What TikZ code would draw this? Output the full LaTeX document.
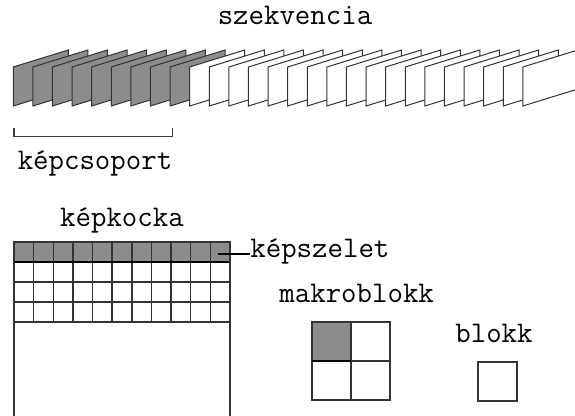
\documentclass[tikz,border=0pt]{standalone}
\usepackage{fontspec}
\usepackage{tikz}

\definecolor{szurke}{gray}{0.55}

\tikzset{
  cimke/.style={font=\ttfamily\fontsize{15}{18}\selectfont, inner sep=0pt, anchor=base},
  kepkeret/.style={draw=black!80, line width=0.5pt, line join=miter},
  racs/.style={draw=black!80, line width=0.7pt},
}

\begin{document}
\begin{tikzpicture}[x=0.5pt,y=0.5pt]

\useasboundingbox (0,0) rectangle (575,416);
\clip (0,0) rectangle (575,416);

% sequence: gray group of pictures first, then the white frames
\foreach \i in {0,...,8}
  \filldraw[kepkeret, fill=szurke] ({13.3+19.6*\i},310) -- ++(0,39) -- ++(55,17) -- ++(0,-39) -- cycle;
\foreach \i in {9,...,26}
  \filldraw[kepkeret, fill=white] ({13.3+19.6*\i},310) -- ++(0,39) -- ++(55,17) -- ++(0,-39) -- cycle;

\node[cimke] (szekvencia) at (295,391) {szekvencia};

% bracket under the group of pictures
\draw[black!75, line width=0.6pt] (14,288) -- (14,279.5) -- (172.7,279.5) -- (172.7,288);
\node[cimke] (kepcsoport) at (95,246.5) {képcsoport};

% picture with its slices
\node[cimke] (kepkocka) at (122,189.3) {képkocka};
\fill[szurke] (14,154) rectangle (230,174);
\foreach \c in {1,...,10}
  \draw[racs] ({14+19.636*\c},94) -- ++(0,80);
\foreach \r in {94,114,134}
  \draw[racs] (14,\r) -- (230,\r);
\draw[line width=1.1pt] (14,154) -- (230,154);
\draw[racs] (14,-10) |- (230,174) -- (230,-10);

\node[cimke, anchor=base west] (kepszelet) at (250,158) {képszelet};
\coordinate (szeletpont) at (218,162);
\draw[line width=0.6pt] (szeletpont) -- (szeletpont -| kepszelet.west);

% macroblock
\node[cimke] (makroblokk) at (356.7,113) {makroblokk};
\fill[szurke] (312,55) rectangle (351,94);
\draw[racs] (312,16) rectangle (390,94);
\draw[racs] (351,16) -- (351,94);
\draw[racs] (312,55) -- (390,55);
\draw[line width=1pt] (312,55) -- (351,55);

% block
\node[cimke] (blokk) at (494,73) {blokk};
\draw[racs] (478,15) rectangle (517,54);

\end{tikzpicture}
\end{document}
